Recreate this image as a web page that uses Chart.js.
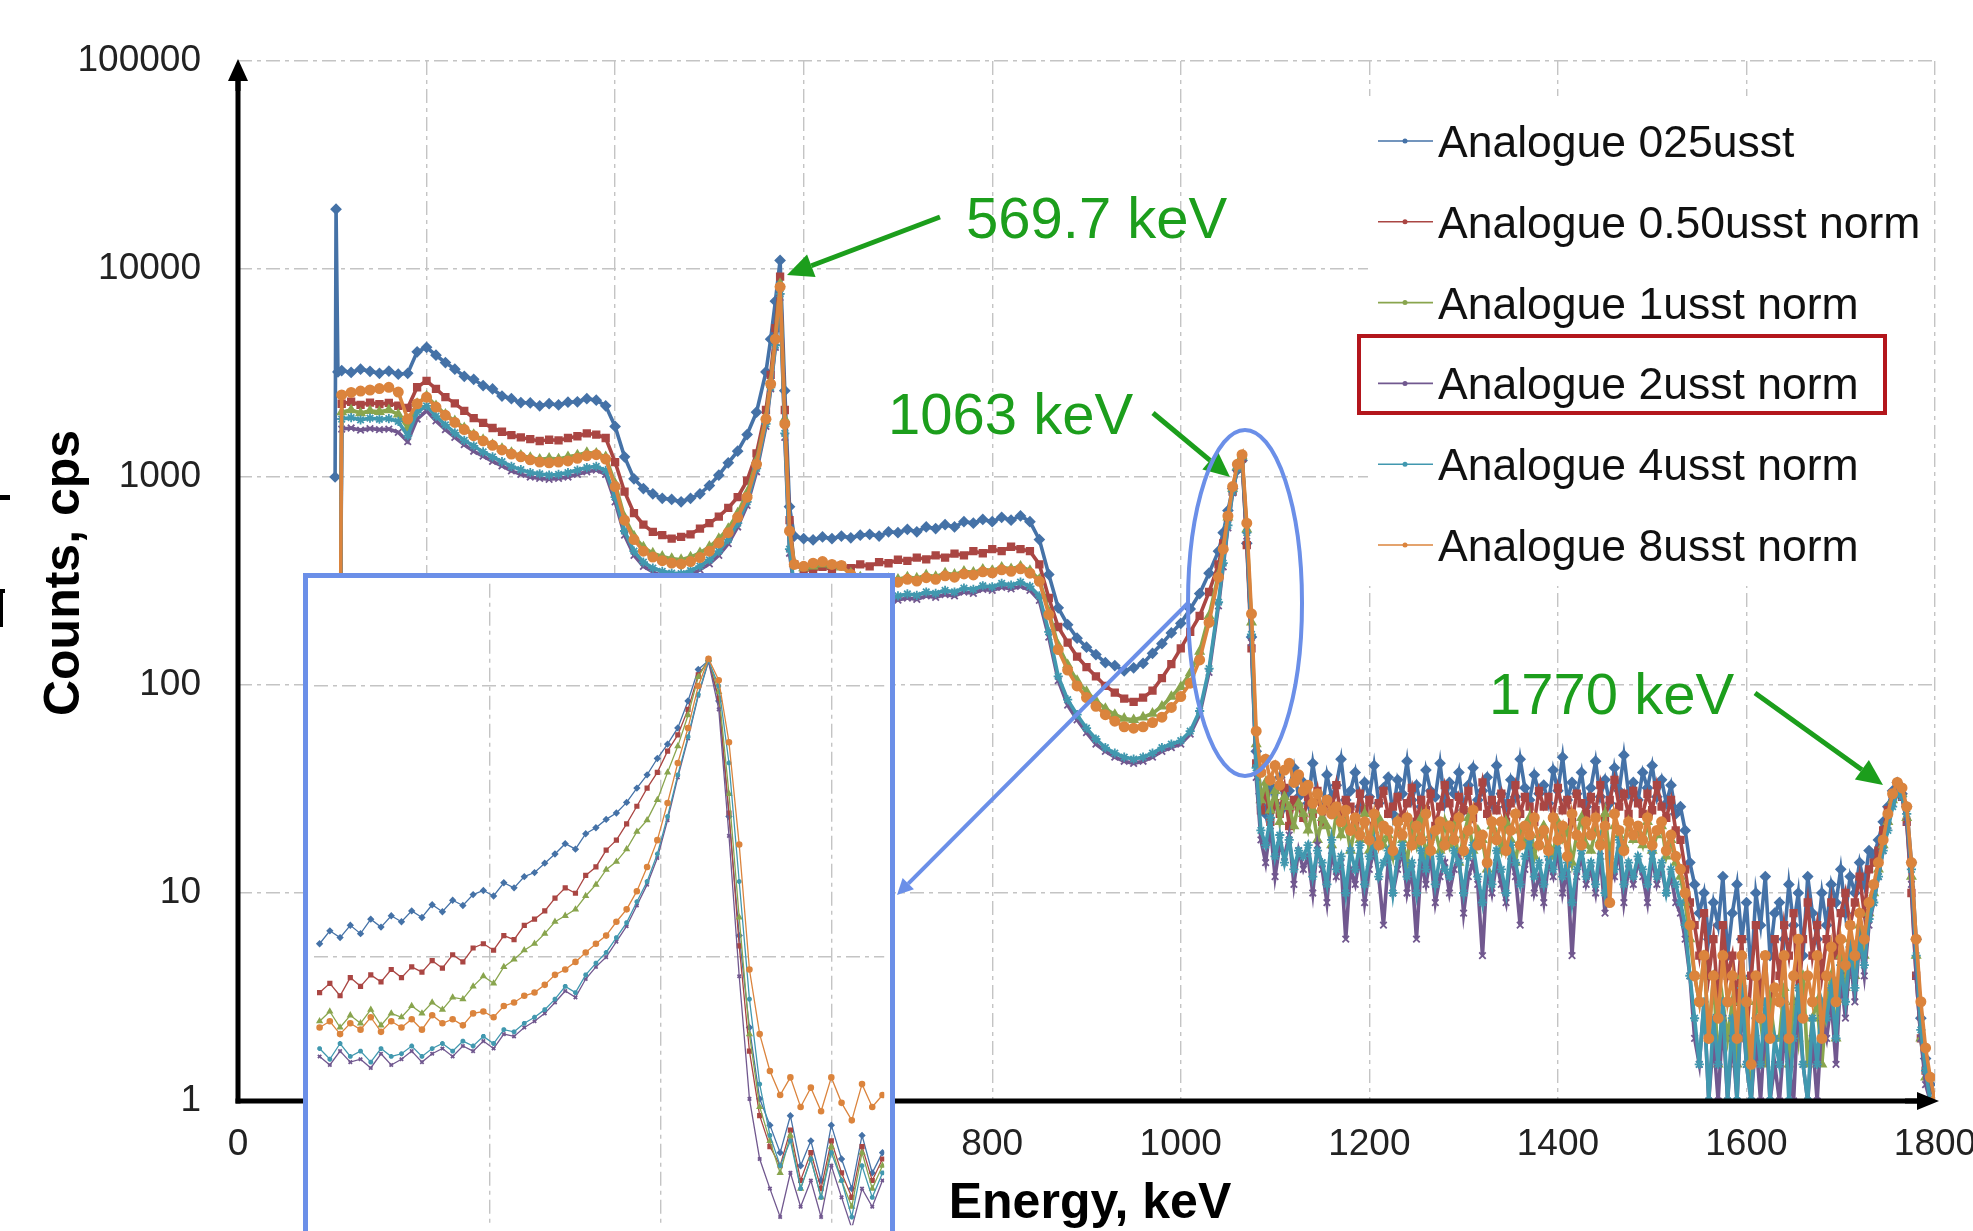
<!DOCTYPE html>
<html>
<head>
<meta charset="utf-8">
<script src="https://cdn.jsdelivr.net/npm/chart.js@4.4.0/dist/chart.umd.min.js"></script>
<style>
html, body { margin: 0; padding: 0; background: #fff; overflow: hidden; }
#wrap { position: relative; width: 1973px; height: 1231px; overflow: hidden; }
#inset { position: absolute; left: 303px; top: 573px; width: 582px; height: 700px; border: 5px solid #6b8fe8; background: #fff; }
#inset canvas { display: block; }
</style>
</head>
<body>
<div id="wrap">
  <canvas id="mainChart" width="1973" height="1231"></canvas>
  <div id="inset"><canvas id="insetChart" width="582" height="653"></canvas></div>
</div>
<script>
// energy channels (keV) shared by all spectra
const energy = [
  103, 104, 106,
  110, 120, 130, 140, 150, 160, 170, 180, 190, 200,
  210, 220, 230, 240, 250, 260, 270, 280, 290, 300,
  310, 320, 330, 340, 350, 360, 370, 380, 390, 400,
  410, 420, 430, 440, 450, 460, 470, 480, 490, 500,
  510, 520, 530, 540, 550, 560,
  565, 570, 575, 580, 585, 590,
  600, 610, 620, 630, 640, 650, 660, 670, 680, 690,
  700, 710, 720, 730, 740, 750, 760, 770, 780, 790,
  800, 810, 820, 830, 840, 850, 860, 870, 880, 890,
  900, 910, 920, 930, 940, 950, 960, 970, 980, 990,
  1000, 1010, 1020, 1030, 1040,
  1045, 1050, 1055, 1060, 1065, 1070, 1075, 1080,
  1085, 1090, 1095, 1100, 1105, 1110, 1115, 1120, 1125, 1130,
  1135, 1140, 1145, 1150, 1155, 1160, 1165, 1170, 1175, 1180,
  1185, 1190, 1195, 1200, 1205, 1210, 1215, 1220, 1225, 1230,
  1235, 1240, 1245, 1250, 1255, 1260, 1265, 1270, 1275, 1280,
  1285, 1290, 1295, 1300, 1305, 1310, 1315, 1320, 1325, 1330,
  1335, 1340, 1345, 1350, 1355, 1360, 1365, 1370, 1375, 1380,
  1385, 1390, 1395, 1400, 1405, 1410, 1415, 1420, 1425, 1430,
  1435, 1440, 1445, 1450, 1455, 1460, 1465, 1470, 1475, 1480,
  1485, 1490, 1495, 1500, 1505, 1510, 1515, 1520, 1525, 1530,
  1535, 1540, 1545, 1550, 1555, 1560, 1565, 1570, 1575, 1580,
  1585, 1590, 1595, 1600, 1605, 1610, 1615, 1620, 1625, 1630,
  1635, 1640, 1645, 1650, 1655, 1660, 1665, 1670, 1675, 1680,
  1685, 1690, 1695, 1700, 1705, 1710, 1715, 1720, 1725, 1730,
  1735, 1740, 1745, 1750, 1755, 1760, 1765, 1770, 1775, 1780,
  1785, 1790, 1795, 1800
];

const usst025 = [
  1000, 19400, 3200,
  3250, 3180, 3300, 3220, 3150, 3230, 3120, 3150, 4000, 4200,
  3850, 3550, 3300, 3050, 2950, 2750, 2650, 2450, 2380, 2280,
  2270, 2200, 2250, 2220, 2290, 2300, 2380, 2340, 2200, 1750,
  1250, 980, 880, 830, 790, 780, 760, 790, 830, 910,
  1020, 1170, 1330, 1600, 2050, 3200,
  4600, 7000, 11000, 2600, 720, 520,
  505, 498, 515, 505, 520, 510, 525, 530, 520, 545,
  540, 560, 545, 575, 565, 590, 575, 610, 600, 625,
  610, 640, 620, 650, 610, 500, 340, 235, 195, 168,
  152, 140, 128, 124, 117, 121, 127, 142, 158, 178,
  198, 232, 275, 345, 440,
  540, 690, 880, 1080, 1200, 480, 170, 48,
  30, 24, 33, 27, 36, 26, 31, 40, 29, 34,
  27, 42, 30, 25, 37, 29, 33, 44, 28, 31,
  38, 26, 34, 29, 41, 27, 32, 36, 24, 35,
  30, 43, 28, 33, 26, 39, 31, 29, 42, 27,
  34, 30, 38, 25, 33, 40, 28, 31, 36, 27,
  41, 30, 26, 35, 29, 44, 32, 28, 37, 30,
  33, 27, 39, 31, 45, 28, 34, 30, 38, 26,
  32, 43, 29, 35, 27, 40, 31, 46, 30, 34,
  28, 38, 32, 41, 29, 35, 27, 33, 24, 26,
  20, 14, 11, 8, 10, 6, 9, 7, 12, 5,
  8, 11, 6, 9, 4, 10, 7, 12, 5, 8,
  9, 6, 11, 7, 10, 5, 12, 8, 6, 10,
  7, 11, 9, 13, 8, 12, 10, 14, 11, 16,
  15, 18, 22, 26, 31, 34, 30, 26, 14, 6,
  2.5, 1.6, 1.2, 1
];

const usst050 = [
  1, 1, 1,
  2250, 2300, 2220, 2280, 2240, 2270, 2200, 2150, 2700, 2900,
  2650, 2420, 2260, 2080, 1920, 1820, 1720, 1650, 1590, 1550,
  1520, 1490, 1510, 1500, 1540, 1570, 1620, 1600, 1540, 1180,
  850, 670, 590, 545, 525, 505, 515, 530, 565, 600,
  645, 710, 800, 960, 1300, 2100,
  3100, 5200, 9200, 2100, 620, 380,
  360, 355, 370, 360, 375, 365, 380, 372, 390, 385,
  400, 395, 410, 402, 420, 410, 428, 420, 440, 430,
  450, 440, 462, 450, 440, 380, 262, 190, 160, 137,
  122, 110, 99, 92, 86, 83, 87, 94, 108, 126,
  150, 180, 215, 280, 380,
  480, 640, 850, 1100, 1230, 470, 150, 42,
  25, 30, 22, 27, 24, 32, 21, 28, 26, 23,
  29, 24, 31, 22, 27, 25, 33, 23, 28, 26,
  22, 30, 25, 28, 21, 27, 31, 24, 26, 29,
  23, 27, 32, 22, 28, 25, 30, 21, 26, 33,
  27, 22, 29, 25, 31, 23, 26, 34, 24, 28,
  25, 30, 22, 27, 33, 24, 29, 26, 22, 31,
  26, 29, 23, 32, 25, 28, 22, 30, 27, 24,
  29, 25, 33, 23, 28, 35, 26, 30, 24, 31,
  27, 24, 30, 25, 33, 26, 23, 28, 20, 18,
  13, 9, 7, 5, 8, 4, 6, 3, 7, 4,
  5, 3, 6, 2, 4, 7, 3, 5, 2, 6,
  4, 7, 5, 8, 3, 6, 9, 5, 7, 4,
  6, 9, 5, 8, 10, 7, 9, 12, 8, 13,
  14, 16, 20, 25, 30, 33, 29, 22, 10, 4,
  2, 1.4, 1, 1
];

const usst1 = [
  1, 1, 1,
  2050, 2100, 2030, 2080, 2060, 2100, 2000, 1720, 2250, 2450,
  2200, 2000, 1860, 1720, 1600, 1510, 1430, 1370, 1310, 1270,
  1240, 1215, 1230, 1220, 1250, 1275, 1310, 1300, 1250, 930,
  640, 520, 460, 430, 415, 405, 400, 412, 432, 462,
  505, 565, 670, 840, 1200, 1950,
  2900, 4700, 8500, 1900, 560, 385,
  365, 372, 380, 375, 368, 345, 330, 322, 318, 325,
  322, 330, 326, 338, 332, 345, 340, 352, 348, 360,
  355, 368, 362, 372, 355, 322, 225, 155, 125, 105,
  93, 84, 77, 72, 69, 68, 70, 73, 79, 88,
  98, 114, 145, 215, 340,
  460, 640, 880, 1120, 1260, 560, 200, 52,
  28, 34, 25, 31, 22, 29, 26, 21, 27, 24,
  20, 25, 18, 23, 21, 17, 24, 19, 22, 16,
  21, 18, 24, 16, 20, 23, 17, 19, 15, 22,
  18, 14, 21, 17, 23, 15, 19, 20, 16, 22,
  17, 21, 14, 19, 23, 16, 20, 18, 13, 21,
  19, 16, 22, 18, 14, 20, 17, 23, 15, 19,
  21, 17, 15, 22, 18, 20, 14, 19, 23, 17,
  16, 20, 18, 24, 15, 21, 19, 17, 22, 18,
  20, 17, 22, 16, 19, 21, 15, 18, 14, 12,
  9, 6, 4, 3, 5, 2, 4, 1.5, 3, 2,
  3, 1.5, 4, 2, 1, 3, 2.5, 1.5, 3, 2,
  2, 3.5, 1.5, 3, 2, 4, 1.5, 2.5, 3, 1.5,
  3, 4, 2, 5, 3.5, 6, 4, 7, 5, 8,
  10, 13, 17, 22, 28, 32, 30, 23, 12, 5,
  2, 1.3, 1, 1
];

const usst2 = [
  1, 1, 1,
  1700, 1720, 1680, 1710, 1690, 1700, 1640, 1480, 1900, 2080,
  1860, 1690, 1550, 1430, 1330, 1260, 1190, 1130, 1070, 1030,
  1000, 985, 975, 985, 1000, 1030, 1060, 1080, 1030, 760,
  525, 420, 372, 350, 335, 330, 330, 340, 358, 382,
  420, 478, 575, 730, 1060, 1750,
  2650, 4200, 7300, 1550, 430, 290,
  275, 270, 268, 262, 265, 258, 262, 255, 258, 252,
  256, 262, 258, 268, 264, 272, 268, 280, 276, 288,
  285, 295, 290, 298, 285, 255, 170, 105, 80, 68,
  59, 52, 48, 45, 43, 42, 43, 45, 48, 50,
  52, 58, 72, 115, 240,
  370, 570, 840, 1090, 1240, 520, 160, 36,
  18, 14, 21, 12, 17, 15, 19, 11, 16, 13,
  15, 10, 17, 13, 9, 16, 12, 14, 6, 13,
  11, 15, 9, 13, 16, 12, 7, 14, 10, 13,
  16, 10, 13, 6, 14, 11, 15, 9, 12, 14,
  10, 13, 15, 8, 12, 14, 11, 5, 13, 10,
  14, 11, 9, 15, 12, 7, 13, 16, 10, 12,
  9, 14, 12, 16, 10, 13, 5, 12, 15, 11,
  13, 10, 15, 8, 14, 12, 16, 9, 13, 11,
  14, 12, 9, 15, 11, 13, 10, 12, 9, 8,
  6, 4, 2, 1.5, 3, 1, 2, 1, 2.5, 1,
  2, 1, 3, 1.5, 1, 2, 1, 2.5, 1, 1.5,
  1, 2, 1.5, 1, 3, 1.5, 1, 2, 1, 2.5,
  2, 3, 1.5, 4, 2.5, 5, 3, 6, 4, 7,
  9, 12, 16, 21, 27, 31, 29, 22, 11, 4,
  2, 1.2, 1, 1
];

const usst4 = [
  1, 1, 1,
  1900, 1930, 1880, 1920, 1895, 1910, 1850, 1580, 2050, 2200,
  1960, 1780, 1630, 1500, 1410, 1320, 1250, 1185, 1125, 1085,
  1050, 1035, 1020, 1030, 1050, 1080, 1110, 1125, 1075, 800,
  550, 440, 390, 365, 352, 345, 343, 355, 373, 400,
  440, 500, 600, 760, 1100, 1800,
  2700, 4300, 7600, 1620, 450, 300,
  285, 280, 282, 276, 278, 272, 276, 268, 272, 265,
  268, 274, 270, 280, 276, 285, 280, 292, 288, 300,
  296, 308, 302, 312, 298, 268, 180, 110, 85, 72,
  62, 55, 50, 47, 45, 44, 45, 47, 50, 52,
  54, 60, 75, 120, 250,
  385, 585, 850, 1100, 1250, 540, 175, 40,
  20, 17, 23, 15, 19, 14, 18, 13, 16, 15,
  17, 12, 16, 14, 11, 18, 13, 15, 10, 16,
  13, 17, 11, 15, 18, 12, 14, 16, 10, 15,
  17, 12, 14, 10, 16, 13, 18, 11, 15, 13,
  12, 16, 14, 10, 15, 17, 12, 9, 14, 11,
  16, 13, 10, 17, 14, 11, 15, 18, 12, 14,
  11, 15, 13, 18, 12, 14, 9, 13, 16, 12,
  14, 11, 17, 10, 15, 13, 18, 11, 14, 12,
  15, 13, 11, 16, 12, 14, 10, 13, 11, 9,
  7, 4, 2.5, 1.5, 3, 1, 2.5, 1.5, 3, 1,
  2.5, 1, 3.5, 1.5, 1, 2.5, 1.5, 3, 1, 2,
  1.5, 3, 1, 2, 3.5, 1.5, 1, 2.5, 1.5, 3,
  2.5, 3.5, 2, 4.5, 3, 5.5, 3.5, 6, 4.5, 7.5,
  9, 12, 16, 20, 26, 30, 29, 24, 13, 5,
  2.2, 1.4, 1, 1
];

const usst8 = [
  1, 1, 1,
  2480, 2550, 2590, 2620, 2660, 2700, 2560, 1900, 2250, 2420,
  2170, 1980, 1830, 1690, 1580, 1490, 1420, 1350, 1290, 1250,
  1210, 1180, 1170, 1180, 1195, 1230, 1265, 1280, 1220, 900,
  620, 500, 440, 412, 396, 386, 382, 392, 410, 440,
  482, 540, 640, 800, 1150, 1900,
  2800, 4600, 8200, 1800, 550, 380,
  372, 385, 392, 380, 375, 340, 322, 315, 310, 318,
  312, 322, 316, 328, 322, 335, 330, 342, 338, 350,
  346, 358, 352, 362, 345, 315, 218, 148, 118, 99,
  87, 79, 72, 67, 63, 62, 63, 66, 70, 78,
  88, 102, 132, 200, 330,
  450, 650, 900, 1150, 1280, 600, 220, 60,
  38, 44, 35, 41, 33, 39, 42, 34, 37, 31,
  33, 27, 30, 25, 28, 24, 26, 22, 25, 20,
  23, 19, 22, 18, 24, 17, 21, 20, 16, 22,
  19, 23, 17, 21, 18, 24, 16, 20, 22, 17,
  21, 18, 23, 16, 20, 25, 17, 19, 14, 22,
  18, 22, 16, 20, 24, 17, 21, 19, 23, 17,
  20, 16, 23, 18, 21, 15, 24, 19, 17, 22,
  19, 23, 17, 21, 9, 24, 20, 16, 22, 19,
  21, 18, 23, 17, 20, 22, 16, 19, 15, 13,
  10, 7, 4, 3, 5, 2, 4, 2.5, 5, 3,
  4, 2, 5, 3, 1.5, 4, 2.5, 5, 2, 3.5,
  3, 5, 2, 4, 6, 2.5, 4, 3, 5, 2,
  4, 5.5, 3, 6, 4.5, 7, 5, 8, 6, 9,
  11, 14, 18, 24, 30, 34, 32, 26, 14, 6,
  3, 1.8, 1.3, 1
];

// zoomed view of the 1063 keV peak (inset)
const insetEnergy = [
  950, 953, 956, 959, 962, 965, 968, 971,
  974, 977, 980, 983, 986, 989, 992, 995,
  998, 1001, 1004, 1007, 1010, 1013, 1016, 1019,
  1022, 1025, 1028, 1031, 1034, 1037, 1040, 1043,
  1046, 1049, 1052, 1055, 1058, 1061, 1064, 1067,
  1070, 1073, 1076, 1079, 1082, 1085, 1088, 1091,
  1094, 1097, 1100, 1103, 1106, 1109, 1112, 1115
];
const insetUsst025 = [
  112, 125, 118, 131, 122, 138, 129, 142,
  135, 148, 140, 156, 147, 162, 155, 170,
  176, 168, 188, 180, 198, 205, 222, 240,
  262, 250, 285, 300, 322, 340, 372, 420,
  470, 540, 610, 700, 880, 1150, 1240, 880,
  330, 120, 55, 30, 24, 19, 26, 17,
  21, 15, 24, 18, 14, 22, 16, 19
];
const insetUsst050 = [
  74, 80, 72, 84, 78, 86, 81, 90,
  84, 92, 88, 97, 91, 102, 96, 108,
  112, 106, 120, 116, 131, 138, 148, 165,
  180, 172, 200, 215, 248, 270, 310, 360,
  420, 480, 575, 660, 820, 1100, 1240, 900,
  340, 110, 45, 26, 20, 17, 23, 15,
  19, 14, 21, 16, 13, 20, 15, 18
];
const insetUsst1 = [
  58, 63, 55, 61, 57, 64, 56, 62,
  60, 66, 62, 68, 64, 71, 70, 78,
  85, 80, 92, 98, 106, 112, 122, 135,
  142, 150, 168, 185, 210, 225, 250, 290,
  320, 380, 480, 600, 780, 1080, 1250, 950,
  400, 140, 52, 28, 21, 16, 22, 14,
  18, 13, 20, 15, 12, 19, 14, 17
];
const insetUsst2 = [
  43, 40, 45, 41, 42, 39, 44, 40,
  42, 45, 41, 44, 46, 43, 47, 45,
  49, 46, 52, 51, 55, 58, 62, 68,
  75, 71, 83, 92, 100, 114, 130, 155,
  185, 232, 320, 460, 640, 920, 1230, 820,
  280, 85, 30, 18, 14, 11, 16, 12,
  15, 11, 17, 13, 10, 14, 12, 15
];
const insetUsst4 = [
  46, 42, 48, 43, 45, 41, 46, 43,
  44, 47, 43, 46, 48, 45, 49, 47,
  51, 48, 54, 53, 57, 60, 64, 70,
  78, 74, 86, 95, 104, 118, 134, 160,
  190, 240, 330, 470, 650, 930, 1240, 1000,
  520, 190, 70, 34, 22, 17, 21, 14,
  18, 13, 19, 15, 11, 17, 13, 16
];
const insetUsst8 = [
  55, 58, 52, 57, 54, 60, 53, 58,
  55, 59, 54, 61, 57, 59, 56, 62,
  63, 60, 66, 68, 72, 74, 79, 86,
  90, 96, 104, 112, 120, 135, 150, 175,
  215, 270, 370, 520, 700, 1000, 1260, 1050,
  620, 260, 90, 52, 38, 31, 36, 28,
  33, 27, 36, 29, 25, 34, 28, 31
];

const seriesNames = [
  'Analogue 025usst', 'Analogue 0.50usst norm', 'Analogue 1usst norm',
  'Analogue 2usst norm', 'Analogue 4usst norm', 'Analogue 8usst norm'
];
const seriesColors = ['#4572a7', '#aa4643', '#89a54e', '#71588f', '#4198af', '#db843d'];
const seriesMarkers = ['rectRot', 'rect', 'triangle', 'crossRot', 'star', 'circle'];
const mainSeries = [usst025, usst050, usst1, usst2, usst4, usst8];
const insetSeries = [insetUsst025, insetUsst050, insetUsst1, insetUsst2, insetUsst4, insetUsst8];

const yTicks = [1, 10, 100, 1000, 10000, 100000];
const insetXGrid = [1000, 1050, 1100];
const insetYGrid = [100, 1000];

const FONT = 'Arial, "Liberation Sans", sans-serif';
const GREEN = '#1c9e1c';
const FRAME_BLUE = '#6b8fe8';
const GRID = { color: '#c4c4c4', lineWidth: 1.4, drawTicks: false };
const GRID_DASH = [14, 5, 4, 5];

function toPoints(xs, ys) {
  return xs.map((x, i) => ({ x: x, y: ys[i] }));
}

function makeDatasets(xs, list, radius, width) {
  return list.map((vals, i) => ({
    label: seriesNames[i],
    data: toPoints(xs, vals),
    borderColor: seriesColors[i],
    backgroundColor: seriesColors[i],
    pointBackgroundColor: seriesColors[i],
    pointBorderColor: seriesColors[i],
    pointStyle: seriesMarkers[i],
    pointRadius: radius,
    pointBorderWidth: 1.8,
    borderWidth: width,
    tension: 0,
    fill: false,
    order: list.length - i
  }));
}

function arrow(c, x1, y1, x2, y2, len, half, color, width) {
  const a = Math.atan2(y2 - y1, x2 - x1);
  const bx = x2 - len * Math.cos(a), by = y2 - len * Math.sin(a);
  c.strokeStyle = color; c.fillStyle = color; c.lineWidth = width;
  c.beginPath(); c.moveTo(x1, y1); c.lineTo(bx, by); c.stroke();
  c.beginPath();
  c.moveTo(x2, y2);
  c.lineTo(bx + half * Math.sin(a), by - half * Math.cos(a));
  c.lineTo(bx - half * Math.sin(a), by + half * Math.cos(a));
  c.closePath(); c.fill();
}

const decorations = {
  id: 'decorations',
  beforeDatasetsDraw(chart) {
    const c = chart.ctx;
    c.save();
    c.fillStyle = '#fff';
    c.fillRect(1368, 96, 566, 490);
    c.restore();
  },
  afterDraw(chart) {
    const c = chart.ctx;
    const a = chart.chartArea;
    c.save();

    // axes with arrow heads
    c.strokeStyle = '#000'; c.lineWidth = 5;
    c.beginPath(); c.moveTo(a.left, a.bottom + 2.5); c.lineTo(a.left, a.top + 18); c.stroke();
    c.beginPath(); c.moveTo(a.left - 2.5, a.bottom); c.lineTo(a.right - 18, a.bottom); c.stroke();
    arrow(c, a.left, a.top + 30, a.left, a.top - 2, 22, 10, '#000', 5);
    arrow(c, a.right - 30, a.bottom, a.right + 4, a.bottom, 22, 9, '#000', 5);

    // axis titles
    c.fillStyle = '#000';
    c.font = 'bold 50px ' + FONT;
    c.textAlign = 'center'; c.textBaseline = 'alphabetic';
    c.fillText('Energy, keV', 1090, 1218);
    c.save();
    c.translate(79, 573); c.rotate(-Math.PI / 2);
    c.fillText('Counts, cps', 0, 0);
    c.restore();

    // legend
    c.textAlign = 'left';
    c.font = '44.5px ' + FONT;
    seriesNames.forEach((name, i) => {
      const y = 141 + i * 80.8;
      c.strokeStyle = seriesColors[i]; c.lineWidth = 1.6;
      c.beginPath(); c.moveTo(1378, y); c.lineTo(1433, y); c.stroke();
      c.fillStyle = seriesColors[i];
      c.beginPath(); c.arc(1405, y, 2.5, 0, Math.PI * 2); c.fill();
      c.fillStyle = '#111';
      c.fillText(name, 1438, y + 16);
    });
    c.strokeStyle = '#b3161c'; c.lineWidth = 4;
    c.strokeRect(1359, 336, 526, 77);

    // peak annotations
    c.fillStyle = GREEN;
    c.font = '58px ' + FONT;
    c.fillText('569.7 keV', 966, 238);
    c.fillText('1063 keV', 888, 434);
    c.fillText('1770 keV', 1489, 714);
    arrow(c, 940, 217, 787, 275, 26, 12, GREEN, 5);
    arrow(c, 1153, 413, 1230, 477, 26, 12, GREEN, 5);
    arrow(c, 1755, 693, 1883, 785, 26, 12, GREEN, 5);

    // ellipse around the 1063 keV peak and link to inset
    c.strokeStyle = FRAME_BLUE; c.lineWidth = 4;
    c.beginPath(); c.ellipse(1245, 603, 57, 173, 0, 0, Math.PI * 2); c.stroke();
    arrow(c, 1188, 603, 897, 895, 16, 8, FRAME_BLUE, 4);

    // cut-off mark at left edge
    c.fillStyle = '#000';
    c.fillRect(0, 495, 10, 5);
    c.fillRect(0, 589, 5, 4);
    c.fillRect(0, 589, 3, 38);

    c.restore();
  }
};

new Chart(document.getElementById('mainChart'), {
  type: 'line',
  data: { datasets: makeDatasets(energy, mainSeries, 4.6, 3.6) },
  options: {
    responsive: false,
    animation: false,
    devicePixelRatio: 1,
    layout: { padding: { left: 0, top: 61, right: 38, bottom: 0 } },
    plugins: { legend: { display: false }, tooltip: { enabled: false } },
    scales: {
      x: {
        type: 'linear', min: 0, max: 1800,
        ticks: { stepSize: 200, padding: 22, color: '#222', font: { size: 37, family: FONT }, maxRotation: 0, autoSkip: false, callback: v => String(v) },
        grid: GRID,
        border: { display: false, dash: GRID_DASH },
        afterFit: s => { s.height = 130; s.paddingLeft = 0; s.paddingRight = 0; }
      },
      y: {
        type: 'logarithmic', min: 1, max: 100000,
        afterBuildTicks: s => { s.ticks = yTicks.map(v => ({ value: v })); },
        ticks: { padding: 37, color: '#222', font: { size: 37, family: FONT }, callback: v => String(v) },
        grid: GRID,
        border: { display: false, dash: GRID_DASH },
        afterFit: s => { s.width = 238; s.paddingTop = 0; s.paddingBottom = 0; }
      }
    }
  },
  plugins: [decorations]
});

new Chart(document.getElementById('insetChart'), {
  type: 'line',
  data: { datasets: makeDatasets(insetEnergy, insetSeries, 2.4, 1.3) },
  options: {
    responsive: false,
    animation: false,
    devicePixelRatio: 1,
    layout: { padding: 0 },
    plugins: { legend: { display: false }, tooltip: { enabled: false } },
    scales: {
      x: {
        type: 'linear', min: 948.3, max: 1115.5,
        afterBuildTicks: s => { s.ticks = insetXGrid.map(v => ({ value: v })); },
        ticks: { display: false },
        grid: GRID,
        border: { display: false, dash: GRID_DASH }
      },
      y: {
        type: 'logarithmic', min: 10.26, max: 2381,
        afterBuildTicks: s => { s.ticks = insetYGrid.map(v => ({ value: v })); },
        ticks: { display: false },
        grid: GRID,
        border: { display: false, dash: GRID_DASH }
      }
    }
  }
});
</script>
</body>
</html>
